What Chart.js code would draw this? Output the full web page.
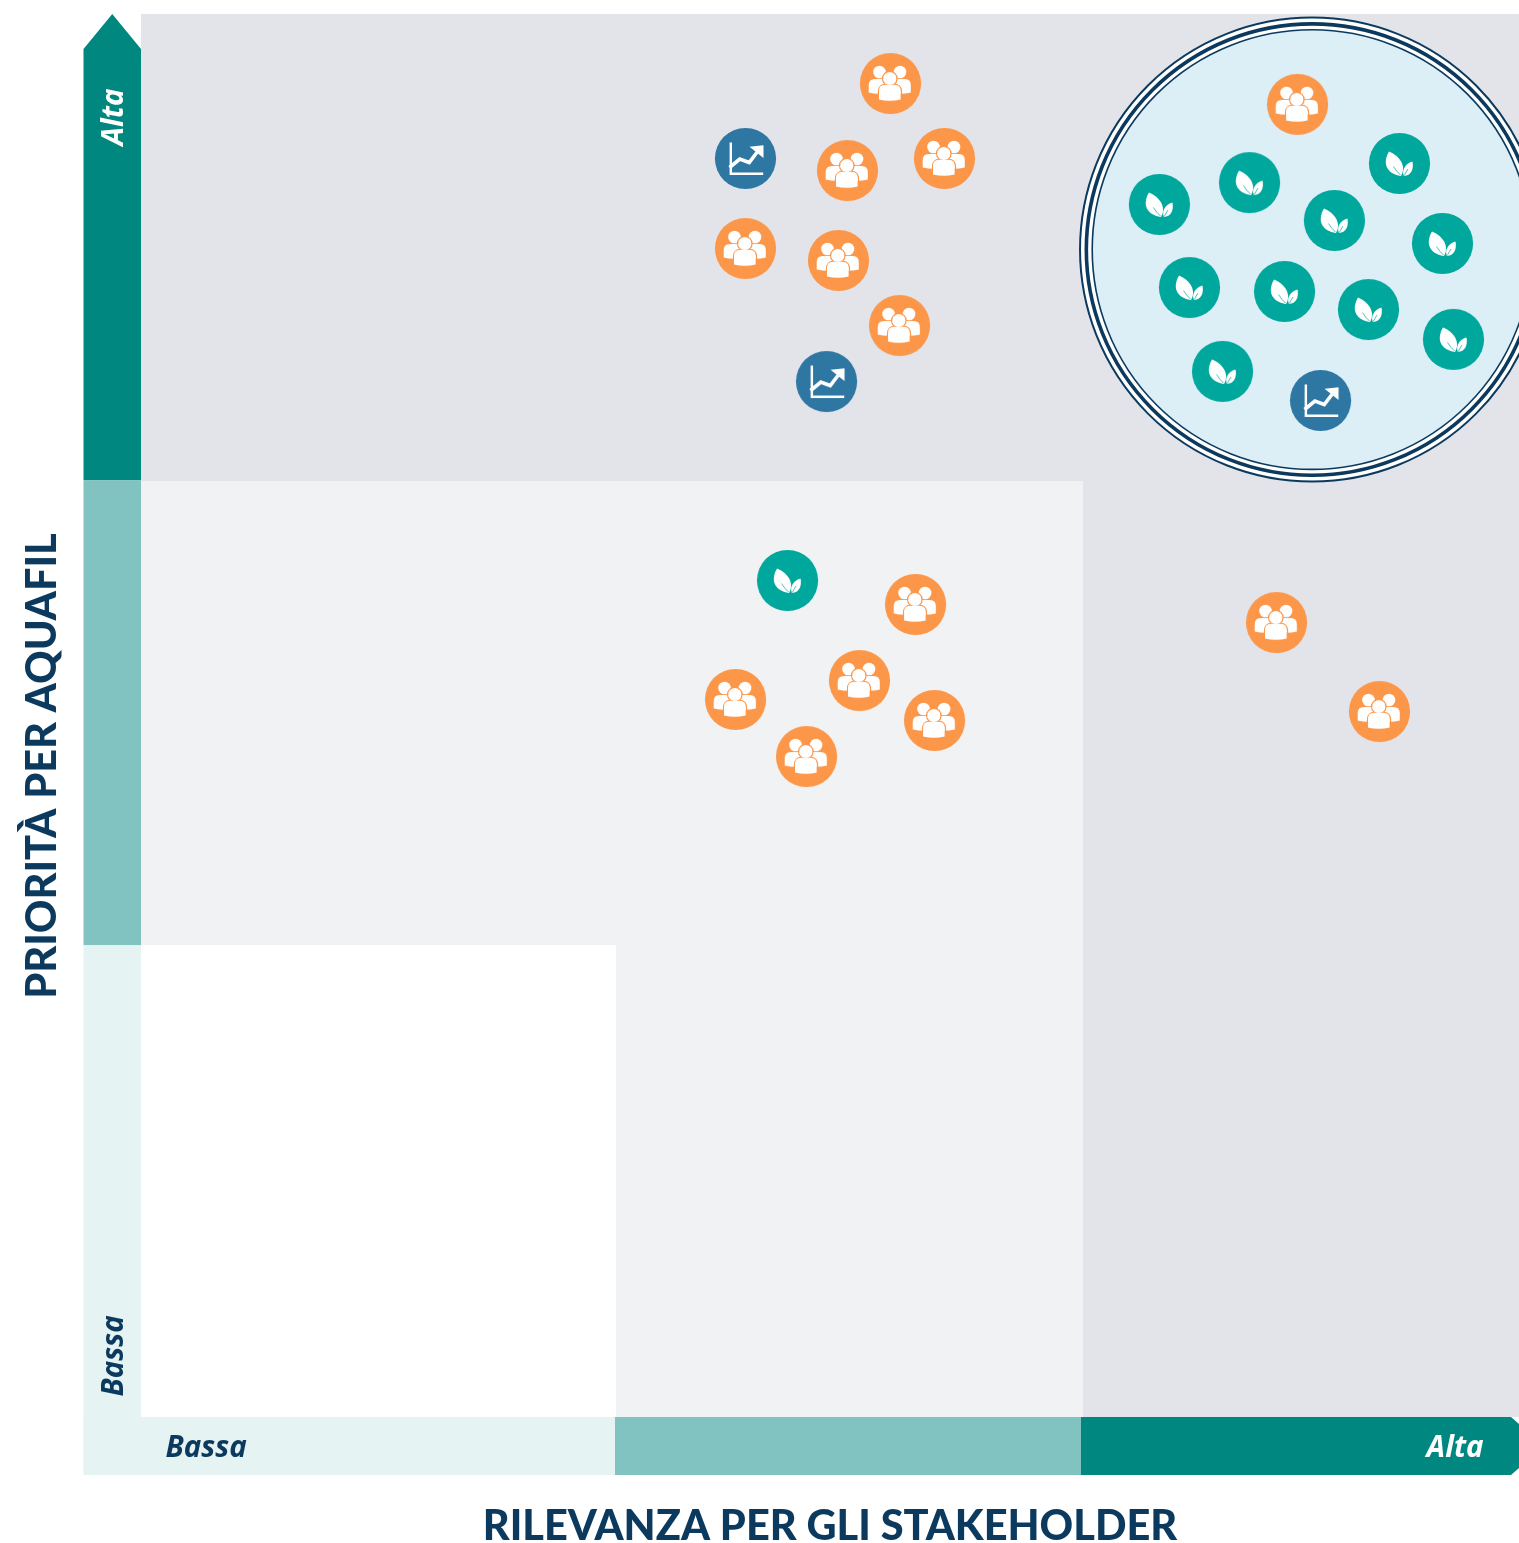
<!DOCTYPE html>
<html><head><meta charset="utf-8">
<style>html,body{margin:0;padding:0;background:#fff}canvas{display:block}</style>
<script src="https://cdn.jsdelivr.net/npm/chart.js@4"></script>
</head><body><canvas id="c" width="1519" height="1543"></canvas>
<script>
const xTitle = 'RILEVANZA PER GLI STAKEHOLDER';
const yTitle = 'PRIORITÀ PER AQUAFIL';
const xTickValues = [4.72, 95.36];
const yTickValues = [4.35, 92.66];
const tickLabels = ['Bassa', 'Alta'];
const xThresholds = [34.47, 68.36];
const yThresholds = [33.64, 66.71];
const focusCentre = [84.98, 83.21];

const socialX = [54.35,51.23,58.27,43.83,50.58,55.01,83.89,56.17,52.10,43.11,57.55,48.26,82.37,89.84];
const socialY = [95.08,88.88,89.74,83.32,82.47,77.83,93.59,57.95,52.53,51.18,49.68,47.11,56.66,50.32];
const economicX = [43.83,49.71,85.56];
const economicY = [89.74,73.84,72.49];
const environmentX = [73.87,80.41,91.29,86.57,94.41,76.05,82.95,89.04,95.21,78.45,46.88];
const environmentY = [86.46,88.02,89.38,85.32,83.68,80.54,80.26,78.97,76.84,74.56,59.66];

const NAVY='#0B3A5E', DARK='#00877F', MID='#81C3C0', PALE='#E5F3F3';
const BG1='#E3E4EA', BG2='#F1F2F4';
const toPts=(xs,ys)=>xs.map((x,i)=>({x,y:ys[i]}));

function badge(color,draw){
  const c=document.createElement('canvas');c.width=c.height=64;
  const g=c.getContext('2d');g.translate(32.5,32.5);
  g.fillStyle=color;g.beginPath();g.arc(0,0,30.6,0,Math.PI*2);g.fill();
  g.fillStyle='#fff';g.strokeStyle='#fff';draw(g,color);return c;
}
function person(g,cx,headY,r,bodyW,bodyTop,bodyBot){
  g.beginPath();g.arc(cx,headY,r,0,Math.PI*2);g.fill();
  g.beginPath();g.moveTo(cx-bodyW,bodyBot-1);
  g.lineTo(cx-bodyW,bodyTop+6);
  g.quadraticCurveTo(cx-bodyW,bodyTop,cx-bodyW+6,bodyTop);
  g.lineTo(cx+bodyW-6,bodyTop);
  g.quadraticCurveTo(cx+bodyW,bodyTop,cx+bodyW,bodyTop+6);
  g.lineTo(cx+bodyW,bodyBot-1);
  g.quadraticCurveTo(cx,bodyBot+1.5,cx-bodyW,bodyBot-1);
  g.closePath();g.fill();
}
const peopleIcon=badge('#FC974A',(g,col)=>{
  person(g,-11,-11.5,6.3,10.8,-4.5,10);
  person(g,9.5,-11.5,6.3,10.8,-4.5,10);
  g.strokeStyle=col;g.lineWidth=1.3;
  g.beginPath();g.arc(-0.7,-5,7.2,0,Math.PI*2);g.stroke();
  g.beginPath();g.moveTo(-12,17);g.lineTo(-12,9);g.quadraticCurveTo(-12,1,-5,1);g.lineTo(4,1);g.quadraticCurveTo(11,1,11,9);g.lineTo(11,17);g.stroke();
  g.fillStyle='#fff';
  person(g,-0.7,-5,6.5,10.8,1.2,17);
});
const growthIcon=badge('#2E77A3',(g)=>{
  g.lineWidth=2.4;
  g.beginPath();g.moveTo(-14.7,-16);g.lineTo(-14.7,15.2);g.lineTo(17.7,15.2);g.stroke();
  g.lineWidth=3.6;
  g.beginPath();g.moveTo(-16,9);g.lineTo(-5.7,0.5);g.lineTo(3.7,4);g.lineTo(12.5,-7.5);g.stroke();
  g.beginPath();g.moveTo(4,-11.8);g.lineTo(18,-13.3);g.lineTo(18,-0.4);g.closePath();g.fill();
});
const leafIcon=badge('#00A79D',(g,col)=>{
  g.beginPath();g.moveTo(-10.5,-12);g.bezierCurveTo(-17,-1,-14,10,1.5,12.5);
  g.bezierCurveTo(7,3,1,-7,-10.5,-12);g.fill();
  g.beginPath();g.moveTo(13,-2);g.bezierCurveTo(5,0.5,2,7,4.4,12.5);
  g.bezierCurveTo(11.5,12,14.5,6,13,-2);g.fill();
  g.strokeStyle=col;g.lineWidth=0.7;
  g.beginPath();g.moveTo(-6,3);g.quadraticCurveTo(-3,8,1,11.5);g.stroke();
  g.beginPath();g.moveTo(8.5,5.5);g.quadraticCurveTo(6.5,8.5,4.8,12);g.stroke();
});

const backdrop={id:'backdrop',beforeDraw(chart){
  const {ctx,scales:{x,y}}=chart;
  const L=x.getPixelForValue(0),R=x.getPixelForValue(100),T=y.getPixelForValue(100),B=y.getPixelForValue(0);
  const x1=x.getPixelForValue(xThresholds[0]),x2=x.getPixelForValue(xThresholds[1]);
  const y1=y.getPixelForValue(yThresholds[0]),y2=y.getPixelForValue(yThresholds[1]);
  ctx.save();
  ctx.fillStyle=BG1;ctx.fillRect(L,T,R-L,B-T);
  ctx.fillStyle=BG2;ctx.fillRect(L,y2,x2-L,B-y2);
  ctx.fillStyle='#fff';ctx.fillRect(L,y1,x1-L,B-y1);
  const bw=57.5,bh=58,bl=L-bw,bb=B+bh,by2=y2-1;
  ctx.fillStyle=PALE;ctx.fillRect(bl,y1,bw,bb-y1);
  ctx.fillStyle=MID;ctx.fillRect(bl,by2,bw,y1-by2);
  ctx.fillStyle=DARK;ctx.beginPath();ctx.moveTo(bl,by2);ctx.lineTo(bl,T+35);ctx.lineTo(bl+bw/2,T);ctx.lineTo(L,T+35);ctx.lineTo(L,by2);ctx.closePath();ctx.fill();
  ctx.fillStyle=PALE;ctx.fillRect(bl,B,x1-2-bl+1,bh);
  ctx.fillStyle=MID;ctx.fillRect(x1-1,B,x2-x1,bh);
  ctx.fillStyle=DARK;ctx.beginPath();ctx.moveTo(x2-2,B);ctx.lineTo(R-8,B);ctx.lineTo(R,B+7);ctx.lineTo(R,bb-7);ctx.lineTo(R-8,bb);ctx.lineTo(x2-2,bb);ctx.closePath();ctx.fill();
  const cx=x.getPixelForValue(focusCentre[0]),cy=y.getPixelForValue(focusCentre[1]);
  ctx.fillStyle='#fff';ctx.beginPath();ctx.arc(cx,cy,232,0,Math.PI*2);ctx.fill();
  ctx.fillStyle='#DCEEF6';ctx.beginPath();ctx.arc(cx,cy,219.5,0,Math.PI*2);ctx.fill();
  ctx.strokeStyle=NAVY;
  [[232,2],[225.7,3.6],[219.8,1.6]].forEach(([r,w])=>{ctx.lineWidth=w;ctx.beginPath();ctx.arc(cx,cy,r,0,Math.PI*2);ctx.stroke();});
  ctx.restore();
}};

const tickFont={family:'"Open Sans"',size:29.5,weight:'bold',style:'italic',lineHeight:1};
const titleFont={family:'Lato',size:41.5,weight:'900',lineHeight:1};
const LEFT_TITLE_W=84;

new Chart(document.getElementById('c'),{
  type:'scatter',
  data:{datasets:[
    {label:'Sociale',data:toPts(socialX,socialY),pointStyle:peopleIcon,pointRadius:30,pointHoverRadius:30},
    {label:'Economico',data:toPts(economicX,economicY),pointStyle:growthIcon,pointRadius:30,pointHoverRadius:30},
    {label:'Ambientale',data:toPts(environmentX,environmentY),pointStyle:leafIcon,pointRadius:30,pointHoverRadius:30}
  ]},
  plugins:[backdrop],
  options:{
    responsive:false,animation:false,
    layout:{autoPadding:false,padding:{top:14,bottom:25,left:0,right:0}},
    plugins:{
      legend:{display:false},tooltip:{enabled:false},
      title:{display:true,text:yTitle,position:'left',color:NAVY,font:titleFont,padding:{top:22,bottom:LEFT_TITLE_W-22-41.5}},
    },
    scales:{
      x:{type:'linear',min:0,max:100,
        grid:{display:false,drawTicks:false},border:{display:false},
        afterBuildTicks(s){s.ticks=xTickValues.map(value=>({value}));},
        afterFit(s){s.height=101;},
        ticks:{autoSkip:false,maxRotation:0,minRotation:0,padding:17,font:tickFont,
          color:c=>c.index===0?NAVY:'#fff',
          callback:(v,i)=>tickLabels[i]},
        title:{display:true,text:xTitle,color:NAVY,font:titleFont,padding:{top:0,bottom:-29}}
      },
      y:{type:'linear',min:0,max:100,
        grid:{display:false,drawTicks:false},border:{display:false},
        afterBuildTicks(s){s.ticks=yTickValues.map(value=>({value}));},
        afterFit(s){s.width=141-LEFT_TITLE_W;},
        ticks:{autoSkip:false,minRotation:90,maxRotation:90,crossAlign:'center',padding:-14,font:tickFont,
          color:c=>c.index===0?NAVY:'#fff',
          callback:(v,i)=>tickLabels[i]}
      }
    }
  }
});
</script></body></html>
